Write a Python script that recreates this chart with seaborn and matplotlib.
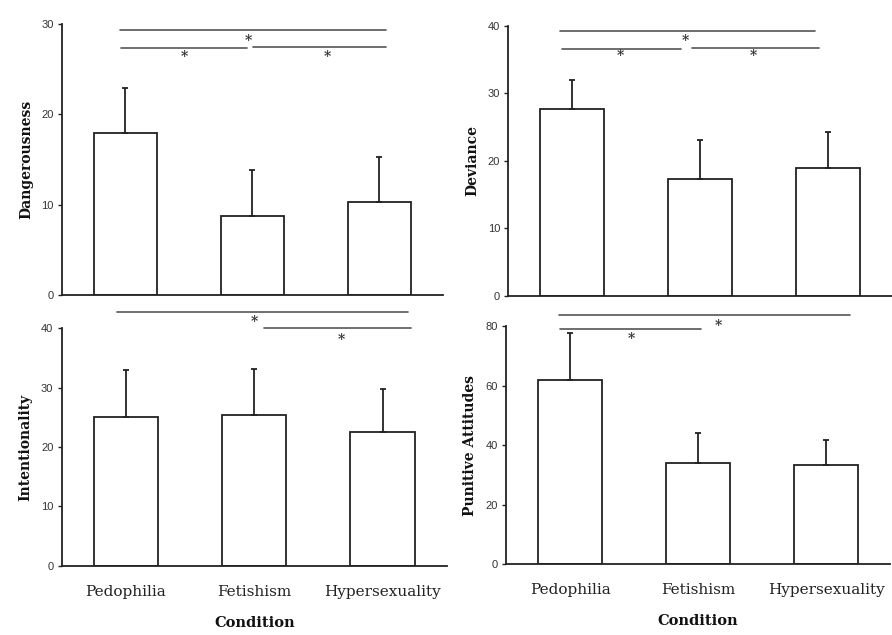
import matplotlib
matplotlib.use("Agg")
import matplotlib.pyplot as plt
import seaborn as sns
import pandas as pd

categories = ["Pedophilia", "Fetishism", "Hypersexuality"]

dang_mean = [17.9, 8.8, 10.3]
dang_sd = [5.05, 5.0, 5.0]
dev_mean = [27.75, 17.3, 18.9]
dev_sd = [4.2, 5.8, 5.4]
int_mean = [25.0, 25.45, 22.55]
int_sd = [8.0, 7.75, 7.25]
pun_mean = [61.8, 34.1, 33.3]
pun_sd = [16.0, 9.9, 8.4]

ylabels = ["Dangerousness", "Deviance", "Intentionality", "Punitive Attitudes"]
ymax = [30, 40, 40, 80]
ystep = [10, 10, 10, 20]

# significance brackets: (x_start, x_end, y) in category/data units; stars: (x, y)
sig_lines = [
    [(-0.04, 2.05, 29.3), (-0.035, 0.957, 27.35), (1.004, 2.05, 27.5)],
    [(-0.10, 1.90, 39.26), (-0.08, 0.85, 36.6), (0.936, 1.93, 36.8)],
    [(-0.07, 2.20, 42.8), (1.08, 2.22, 40.0)],
    [(-0.085, 2.19, 83.6), (-0.077, 1.02, 79.1)],
]
sig_stars = [
    [(0.97, 28.15), (0.46, 26.35), (1.59, 26.35)],
    [(0.886, 37.8), (0.374, 35.6), (1.414, 35.6)],
    [(1.0, 41.0), (1.68, 38.1)],
    [(1.155, 80.0), (0.48, 75.5)],
]

sns.set_theme(style="white")
plt.rcParams["font.family"] = ["DejaVu Serif", "Liberation Serif"]

fig = plt.figure(figsize=(8.92, 6.35), dpi=100)
positions = [
    [0.0695, 0.5354, 0.4270, 0.4268],
    [0.5700, 0.5339, 0.4298, 0.4252],
    [0.0692, 0.1091, 0.4316, 0.3737],
    [0.5673, 0.1118, 0.4305, 0.3748],
]
means = [dang_mean, dev_mean, int_mean, pun_mean]
sds = [dang_sd, dev_sd, int_sd, pun_sd]

for i in range(4):
    ax = fig.add_axes(positions[i])
    df = pd.DataFrame({"Condition": categories, "value": means[i]})
    sns.barplot(data=df, x="Condition", y="value", ax=ax, color="white",
                edgecolor="#222222", linewidth=1.3, width=0.5, errorbar=None,
                saturation=1)
    ax.errorbar(range(3), means[i], yerr=[[0, 0, 0], sds[i]], fmt="none",
                ecolor="#222222", elinewidth=1.3, capsize=2.5, capthick=1.3)
    ax.set_xlim(-0.5, 2.5)
    ax.set_ylim(0, ymax[i])
    ax.set_yticks(range(0, ymax[i] + 1, ystep[i]))
    for sp in ["top", "right"]:
        ax.spines[sp].set_visible(False)
    for sp in ["left", "bottom"]:
        ax.spines[sp].set_color("#222222")
        ax.spines[sp].set_linewidth(1.3)
    ax.tick_params(axis="y", which="both", left=True, length=3, width=1.0,
                   color="#222222", labelsize=8, labelcolor="#333333", pad=3)
    for lab in ax.get_yticklabels():
        lab.set_fontfamily(["Liberation Sans", "DejaVu Sans"])
    ax.tick_params(axis="x", bottom=False, length=0)
    ax.set_ylabel(ylabels[i], fontsize=10, fontweight="bold", labelpad=6,
                  color="#111111")
    if i < 2:
        ax.set_xticklabels([])
        ax.set_xlabel("")
    else:
        ax.tick_params(axis="x", labelsize=11, labelcolor="#222222", pad=14)
        ax.set_xlabel("Condition", fontsize=10.5, fontweight="bold",
                      labelpad=12, color="#111111")
    for (x0, x1, y) in sig_lines[i]:
        ax.plot([x0, x1], [y, y], color="#555555", lw=1.2, clip_on=False)
    for (x, y) in sig_stars[i]:
        ax.text(x, y, "*", ha="center", va="center", fontsize=10,
                fontweight="bold", color="#333333", clip_on=False)

fig.savefig("out.png", dpi=100)
